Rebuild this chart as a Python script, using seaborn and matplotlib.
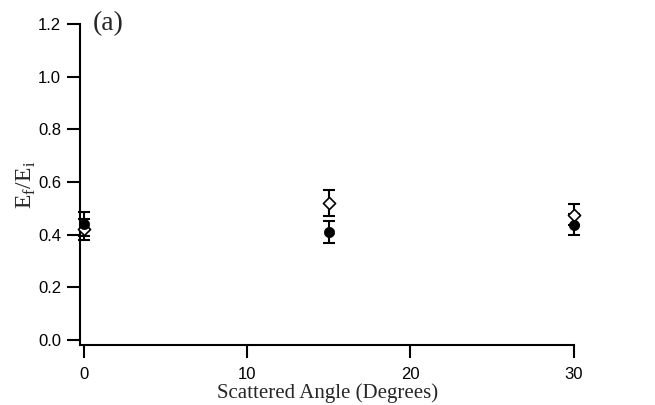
import matplotlib
matplotlib.use("Agg")
import matplotlib.pyplot as plt
import seaborn as sns
import pandas as pd

angles = [0, 15, 30]
filled_vals = [0.44, 0.41, 0.437]
filled_err = [0.045, 0.04, 0.04]
open_vals = [0.42, 0.52, 0.475]
open_err = [0.04, 0.05, 0.04]
yticks = [0.0, 0.2, 0.4, 0.6, 0.8, 1.0, 1.2]
xticks = [0, 10, 20, 30]

sns.set_theme(style="ticks")
plt.rcParams['font.family'] = ['Liberation Sans', 'DejaVu Sans']

fig = plt.figure(figsize=(6.55, 4.05), dpi=100)
ax = fig.add_axes([0.122, 0.148, 0.755, 0.793])

df_f = pd.DataFrame({"angle": angles, "val": filled_vals, "err": filled_err})
df_o = pd.DataFrame({"angle": angles, "val": open_vals, "err": open_err})

for df in (df_o, df_f):
    ax.errorbar(df["angle"], df["val"], yerr=df["err"], fmt="none",
                ecolor="black", elinewidth=1.5, capsize=4.5, capthick=1.5,
                zorder=2, clip_on=False)

sns.scatterplot(data=df_o, x="angle", y="val", marker="D", s=38,
                facecolor="white", edgecolor="black", linewidth=1.2, ax=ax,
                zorder=3, clip_on=False)
sns.scatterplot(data=df_f, x="angle", y="val", marker="o", s=55,
                color="black", edgecolor="black", linewidth=0.5, ax=ax,
                zorder=4, clip_on=False)

ax.set_xlim(-0.25, 30.05)
ax.set_ylim(-0.019, 1.2)
ax.set_xticks(xticks)
ax.set_xticklabels([str(t) for t in xticks])
ax.set_yticks(yticks)
ax.set_yticklabels([f"{t:.1f}" for t in yticks])

for s in ["top", "right"]:
    ax.spines[s].set_visible(False)
for s in ["left", "bottom"]:
    ax.spines[s].set_linewidth(1.5)
    ax.spines[s].set_color("black")

ax.tick_params(axis="both", direction="out", length=9.5, width=1.5, colors="black",
               labelsize=12)
ax.tick_params(axis="y", pad=4)
ax.tick_params(axis="x", pad=6)

serif = ['Liberation Serif', 'DejaVu Serif']
ax.set_xlabel("Scattered Angle (Degrees)", fontsize=15, family=serif, labelpad=1)
ax.set_ylabel(r"E$_\mathregular{f}$/E$_\mathregular{i}$", fontsize=17, family=serif, labelpad=0)
ax.text(0.55, 1.2, "(a)", fontsize=20, family=serif, va="center", ha="left")

fig.savefig("out.png", dpi=100)
